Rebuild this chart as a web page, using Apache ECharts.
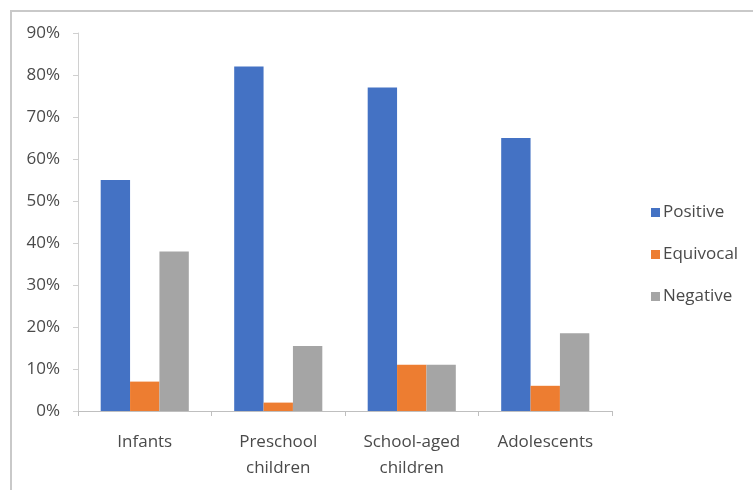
<!DOCTYPE html>
<html>
<head>
<meta charset="utf-8">
<script src="https://cdn.jsdelivr.net/npm/echarts@6/dist/echarts.min.js"></script>
<style>
  html, body { margin: 0; padding: 0; background: #fff; }
  #wrap { position: relative; width: 753px; height: 490px; overflow: hidden; }
  #frame { position: absolute; left: 10px; top: 10px; width: 760px; height: 500px;
           border-top: 2px solid #c9c9c9; border-left: 2px solid #c9c9c9; }
  #chart { position: absolute; left: 0; top: 0; width: 753px; height: 490px; }
</style>
</head>
<body>
<div id="wrap">
  <div id="frame"></div>
  <div id="chart"></div>
</div>
<script>
// Age groups along the x axis
const categories = ['Infants', 'Preschool\nchildren', 'School-aged\nchildren', 'Adolescents'];
// Share of results per group, in percent
const positive  = [55, 82, 77, 65];
const equivocal = [7, 2, 11, 6];
const negative  = [38, 15.5, 11, 18.5];
// Value axis range
const yMin = 0, yMax = 90, yStep = 10;

const font = '"Open Sans", Lato, sans-serif';
const textColor = '#4a4a4a';
const chart = echarts.init(document.getElementById('chart'), null, { renderer: 'canvas' });

const barSeries = (name, data, color) => ({
  name, type: 'bar', data,
  barGap: '0%', barCategoryGap: '34%',
  itemStyle: { color },
  emphasis: { disabled: true }
});

chart.setOption({
  animation: false,
  backgroundColor: 'transparent',
  grid: { left: 78, right: 141, top: 33, bottom: 79, containLabel: false },
  legend: {
    orient: 'vertical', left: 646, top: 199,
    itemWidth: 9, itemHeight: 9, itemGap: 25, icon: 'rect',
    textStyle: { fontFamily: font, fontSize: 17, color: textColor, padding: [0, 0, 0, -2] },
    data: ['Positive', 'Equivocal', 'Negative']
  },
  xAxis: {
    type: 'category', data: categories,
    axisLine: { lineStyle: { color: '#bfbfbf', width: 1 } },
    axisTick: { show: true, length: 5, alignWithLabel: false, lineStyle: { color: '#bfbfbf' } },
    axisLabel: { fontFamily: font, fontSize: 17, color: textColor, margin: 18, lineHeight: 26, interval: 0 }
  },
  yAxis: {
    type: 'value', min: yMin, max: yMax, interval: yStep,
    axisLine: { show: true, lineStyle: { color: '#d0d0d0', width: 1 } },
    axisTick: { show: true, length: 5, lineStyle: { color: '#d0d0d0' } },
    splitLine: { show: false },
    axisLabel: { fontFamily: font, fontSize: 17, color: textColor, margin: 18, formatter: '{value}%' }
  },
  series: [
    barSeries('Positive', positive, '#4472C4'),
    barSeries('Equivocal', equivocal, '#ED7D31'),
    barSeries('Negative', negative, '#A5A5A5')
  ]
});
</script>
</body>
</html>
